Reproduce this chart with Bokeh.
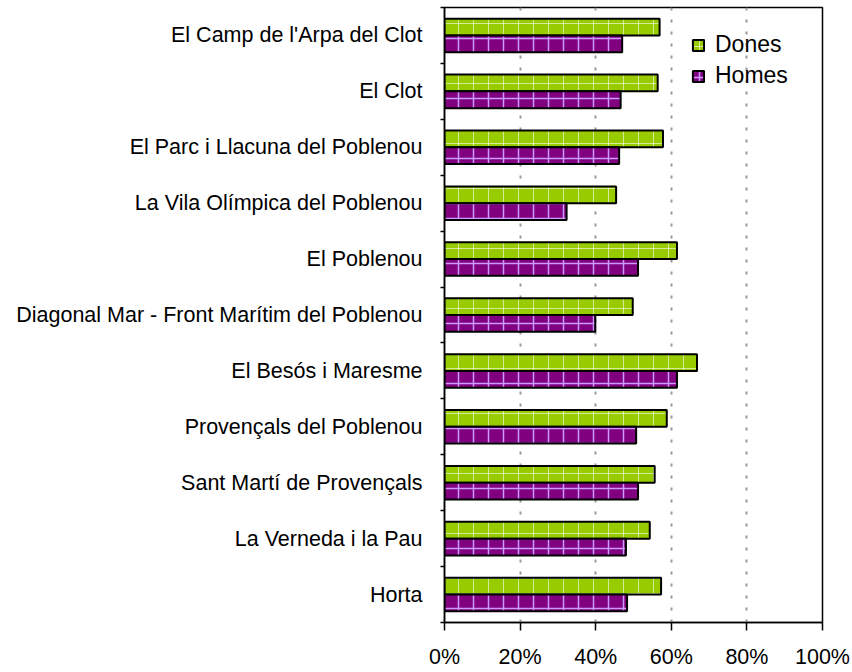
import numpy as np
from bokeh.plotting import figure
from bokeh.models import ColumnDataSource, FixedTicker, Legend, LegendItem, Range1d
from bokeh.embed import file_html
from bokeh.resources import INLINE

# ---- data (top to bottom as in the chart) ----
categories = [
    "El Camp de l'Arpa del Clot",
    "El Clot",
    "El Parc i Llacuna del Poblenou",
    "La Vila Olímpica del Poblenou",
    "El Poblenou",
    "Diagonal Mar - Front Marítim del Poblenou",
    "El Besós i Maresme",
    "Provençals del Poblenou",
    "Sant Martí de Provençals",
    "La Verneda i la Pau",
    "Horta",
]
dones = [56.9, 56.4, 57.8, 45.4, 61.5, 49.8, 66.8, 58.8, 55.6, 54.3, 57.3]
homes = [47.0, 46.6, 46.2, 32.3, 51.2, 39.9, 61.5, 50.7, 51.2, 48.0, 48.3]
x_ticks = [0, 20, 40, 60, 80, 100]
x_tick_labels = ["0%", "20%", "40%", "60%", "80%", "100%"]

FONT = "Liberation Sans"
FSIZE = "21.5px"
GREEN = "#99cc00"
PURPLE = "#800080"

n = len(categories)
centers = np.arange(n)[::-1].astype(float)  # top category highest
bar_h = 0.3

src_d = ColumnDataSource(dict(y=centers + bar_h / 2, right=dones))
src_h = ColumnDataSource(dict(y=centers - bar_h / 2, right=homes))

p = figure(
    frame_width=378, frame_height=615,
    x_range=Range1d(0, 100), y_range=Range1d(-0.5, n - 0.5),
    output_backend="svg", toolbar_location=None,
    min_border_left=444, min_border_top=7, min_border_right=28, min_border_bottom=10,
)
p.background_fill_color = "white"
p.border_fill_color = "white"
p.outline_line_color = "black"
p.outline_line_width = 1.5

# grid
p.xgrid.ticker = FixedTicker(ticks=[20, 40, 60, 80])
p.xgrid.grid_line_color = "#999999"
p.xgrid.grid_line_width = 2
p.xgrid.grid_line_dash = "3 9"
p.ygrid.visible = False

r_d = p.hbar(y="y", right="right", left=0, height=bar_h, source=src_d,
             fill_color=GREEN, line_color="black", line_width=2,
             hatch_pattern="cross", hatch_color="white", hatch_alpha=0.6,
             hatch_scale=15, hatch_weight=1)
r_h = p.hbar(y="y", right="right", left=0, height=bar_h, source=src_h,
             fill_color=PURPLE, line_color="black", line_width=2,
             hatch_pattern="cross", hatch_color="#cc99ff", hatch_alpha=1.0,
             hatch_scale=15, hatch_weight=1.5)

# y axis: labels at centers, ticks between categories
yax = p.yaxis[0]
bounds = list(np.arange(n + 1) - 0.5)
yax.ticker = FixedTicker(ticks=list(centers), minor_ticks=bounds)
yax.major_label_overrides = {float(c): lab for c, lab in zip(centers, categories)}
yax.major_tick_out = 0
yax.major_tick_in = 0
yax.minor_tick_out = 4
yax.minor_tick_in = 0
yax.minor_tick_line_color = "black"
yax.minor_tick_line_width = 1.5
yax.axis_line_color = "black"
yax.axis_line_width = 1.5
yax.major_label_standoff = 18
yax.major_label_text_font = FONT
yax.major_label_text_font_size = FSIZE
yax.major_label_text_color = "black"

xax = p.xaxis[0]
xax.ticker = FixedTicker(ticks=x_ticks)
xax.major_label_overrides = {float(t): lab for t, lab in zip(x_ticks, x_tick_labels)}
xax.major_tick_out = 8
xax.major_tick_in = 0
xax.major_tick_line_color = "black"
xax.major_tick_line_width = 1.5
xax.minor_tick_out = 0
xax.minor_tick_in = 0
xax.axis_line_color = "black"
xax.axis_line_width = 1.5
xax.major_label_standoff = 14
xax.major_label_text_font = FONT
xax.major_label_text_font_size = FSIZE
xax.major_label_text_color = "black"

legend = Legend(
    items=[LegendItem(label="Dones", renderers=[r_d]),
           LegendItem(label="Homes", renderers=[r_h])],
    location=(247, 533),
    border_line_color=None, background_fill_alpha=0,
    label_text_font=FONT, label_text_font_size="23px", label_text_color="black",
    glyph_width=14, glyph_height=14, spacing=4, padding=0, margin=0,
    label_standoff=10,
)
p.add_layout(legend)

open("out.html", "w").write(file_html(p, INLINE))
